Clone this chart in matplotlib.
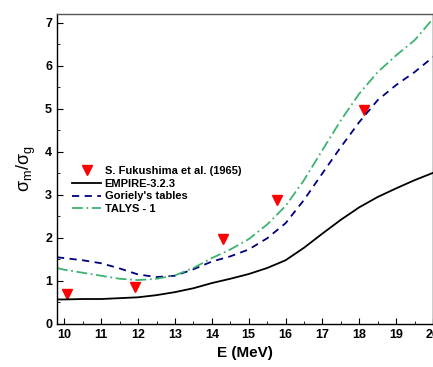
import matplotlib
matplotlib.use("Agg")
import matplotlib.pyplot as plt
from matplotlib.ticker import MultipleLocator

plt.rcParams['font.family'] = ['Liberation Sans', 'DejaVu Sans']
plt.rcParams['mathtext.fontset'] = 'custom'
plt.rcParams['mathtext.rm'] = 'Liberation Sans'
plt.rcParams['mathtext.it'] = 'Liberation Sans'

# Experimental points
exp_e = [10.07, 11.92, 14.30, 15.76, 18.13]
exp_r = [0.69, 0.85, 1.97, 2.87, 4.98]

# Model curves
e_grid = [9.8, 10.0, 10.5, 11.0, 11.5, 12.0, 12.5, 13.0, 13.5, 14.0, 14.5, 15.0,
          15.5, 16.0, 16.5, 17.0, 17.5, 18.0, 18.5, 19.0, 19.5, 20.0]
empire = [0.57, 0.57, 0.58, 0.58, 0.60, 0.62, 0.67, 0.74, 0.83, 0.95, 1.05, 1.16,
          1.30, 1.48, 1.77, 2.10, 2.42, 2.71, 2.95, 3.15, 3.34, 3.51]
goriely = [1.55, 1.53, 1.48, 1.41, 1.29, 1.15, 1.09, 1.12, 1.27, 1.45, 1.57, 1.73,
           1.99, 2.34, 2.88, 3.50, 4.11, 4.69, 5.20, 5.55, 5.85, 6.20]
talys = [1.30, 1.26, 1.19, 1.12, 1.05, 1.02, 1.05, 1.13, 1.30, 1.53, 1.73, 1.97,
         2.31, 2.74, 3.34, 4.04, 4.73, 5.35, 5.85, 6.24, 6.59, 7.09]

fig = plt.figure(figsize=(4.33, 3.67), dpi=100)
ax = fig.add_axes([0.1316, 0.1172, 0.8684, 0.8447])

ax.plot(exp_e, exp_r, linestyle='none', marker='v', color='#ff0000', markersize=7,
        label='S. Fukushima et al. (1965)')
ax.plot(e_grid, empire, color='black', linewidth=1.3, label='EMPIRE-3.2.3')
ax.plot(e_grid, goriely, color='#000080', linewidth=1.3, linestyle=(0, (4, 3)),
        label="Goriely's tables")
ax.plot(e_grid, talys, color='#3cb371', linewidth=1.3, linestyle=(0, (6, 2, 1, 2)),
        label='TALYS - 1')

ax.set_xlim(9.8, 20)
ax.set_ylim(0, 7.2)
ax.xaxis.set_major_locator(MultipleLocator(1))
ax.xaxis.set_minor_locator(MultipleLocator(0.5))
ax.yaxis.set_major_locator(MultipleLocator(1))
ax.yaxis.set_minor_locator(MultipleLocator(0.5))
ax.tick_params(which='both', direction='in', top=False, right=False)
ax.tick_params(which='major', length=4, labelsize=9)
ax.tick_params(which='minor', length=2)
for lbl in ax.get_xticklabels() + ax.get_yticklabels():
    lbl.set_fontweight('bold')
for s in ax.spines.values():
    s.set_linewidth(1.0)
ax.spines['top'].set_color('#555555')

ax.set_xlabel('E (MeV)', fontsize=11, fontweight='bold', labelpad=4)
ax.set_ylabel(r'$\sigma_m/\sigma_g$', fontsize=13, labelpad=5)

ax.legend(loc='upper left', bbox_to_anchor=(0.02, 0.535), frameon=False,
          prop={'size': 8, 'weight': 'bold'}, handlelength=2.6, handletextpad=0.3,
          labelspacing=0.25, borderpad=0.2)

fig.savefig('out.png', dpi=100)
